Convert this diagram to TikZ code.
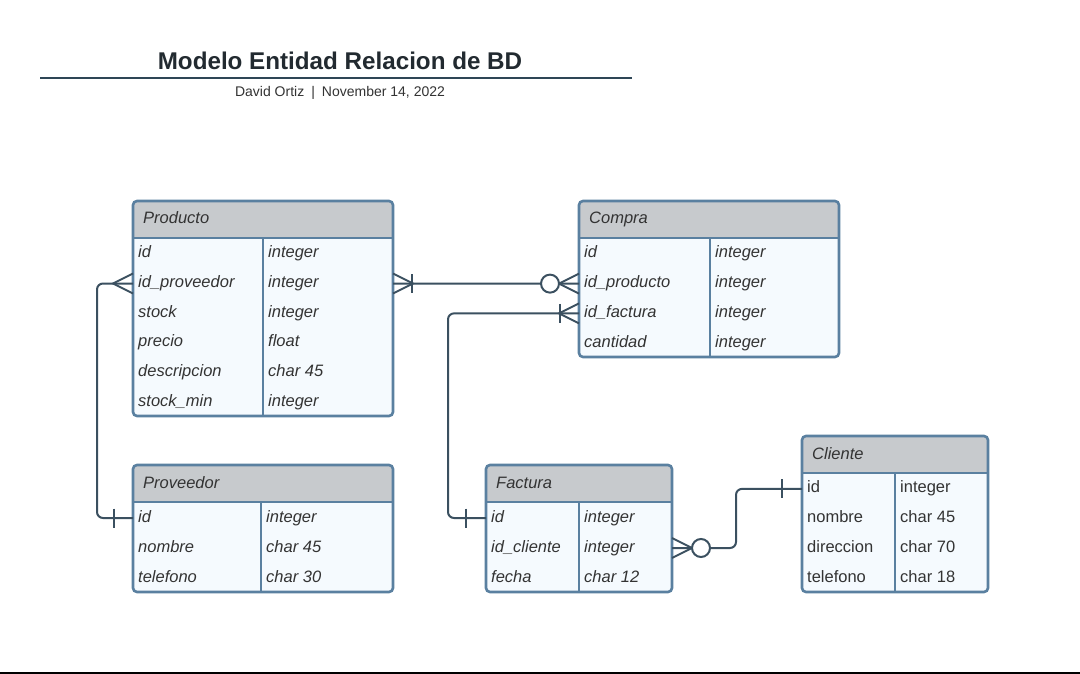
\documentclass[tikz,border=0pt]{standalone}
\usepackage{fontspec}
\setmainfont{Liberation Sans}
\usetikzlibrary{calc}
\definecolor{tblborder}{HTML}{5A80A0}
\definecolor{headfill}{HTML}{C7CACD}
\definecolor{bodyfill}{HTML}{F5FAFE}
\definecolor{txt}{HTML}{333333}
\definecolor{connclr}{HTML}{3B5060}
\definecolor{titleline}{HTML}{2E4656}
\definecolor{titletext}{HTML}{222A30}

\newcommand\rowfont{\itshape}
\newcommand\ertable[9]{%
  \pgfmathsetmacro\erhy{#3+37}%
  \pgfmathsetmacro\errh{(#6-\erhy)/#7}%
  \fill[bodyfill, rounded corners=4pt] (#2,#3) rectangle (#4,#6);
  \begin{scope}
    \clip (#2,#3) rectangle (#4,\erhy);
    \fill[headfill, rounded corners=4pt] (#2,#3) rectangle (#4,#6);
  \end{scope}
  \node[hdrtext] (#1-title) at (#2+10,#3+23) {#8};
  \foreach \a/\b [count=\i] in {#9} {
    \pgfmathsetmacro\erc{\erhy+(\i-0.5)*\errh}
    \node[celltext] (#1-\i-key) at (#2+5,\erc+5) {\rowfont\a};
    \node[celltext] (#1-\i-type) at (#5+5,\erc+5) {\rowfont\b};
    \coordinate (#1-\i-w) at (#2,\erc+1);
    \coordinate (#1-\i-e) at (#4,\erc+1);
  }
  \draw[tblline] (#2,\erhy) -- (#4,\erhy);
  \draw[tblline] (#5,\erhy) -- (#5,#6);
  \draw[tblline, rounded corners=4pt] (#2,#3) rectangle (#4,#6);
}
\newcommand\crowfoot[2]{%
  \draw[conn] ($(#1)+(0,-10)$) -- ($(#1)+(#2*20,0)$) -- ($(#1)+(0,10)$);}
\newcommand\erbar[3]{%
  \draw[conn] ($(#1)+(#2*#3,-9.5)$) -- ($(#1)+(#2*#3,9.5)$);}
\newcommand\ercircle[2]{%
  \draw[conn, fill=white] ($(#1)+(#2*29,0)$) circle[radius=9pt];}

\begin{document}
\begin{tikzpicture}[x=1pt, y=-1pt,
  tblline/.style={draw=tblborder, line width=2.6pt},
  hdrtext/.style={anchor=base west, inner sep=0pt, text=txt, font=\itshape\fontsize{16.5}{18}\selectfont},
  celltext/.style={anchor=base west, inner sep=0pt, text=txt, font=\fontsize{16.5}{18}\selectfont},
  conn/.style={draw=connclr, line width=2pt},
  titlestyle/.style={inner sep=0pt, text=titletext, font=\bfseries\fontsize{24.2}{28}\selectfont},
  substyle/.style={inner sep=0pt, text=txt, font=\fontsize{14}{16}\selectfont}]
\useasboundingbox (0,0) rectangle (1080,674);
\fill[white] (0,0) rectangle (1080,674);

% title block
\node[titlestyle] (title) at (340,61) {Modelo Entidad Relacion de BD};
\coordinate (tl-a) at (40,78);
\coordinate (tl-b) at (632,78);
\draw[titleline, line width=2pt] (tl-a) -- (tl-b);
\node[substyle] (subtitle) at (340,93) {David Ortiz\hspace{7pt}|\hspace{7pt}November 14, 2022};

% bottom rule
\coordinate (bl-a) at (0,673);
\coordinate (bl-b) at (1080,673);
\draw[black, line width=2.2pt] (bl-a) -- (bl-b);

% tables
\ertable{prod}{133}{201}{393}{263}{416}{6}{Producto}{id/integer, id\_proveedor/integer, stock/integer, precio/float, descripcion/char 45, stock\_min/integer}
\ertable{comp}{579}{201}{839}{710}{357}{4}{Compra}{id/integer, id\_producto/integer, id\_factura/integer, cantidad/integer}
\ertable{prov}{133}{465}{393}{261}{592}{3}{Proveedor}{id/integer, nombre/char 45, telefono/char 30}
\ertable{fact}{486}{465}{672}{579}{592}{3}{Factura}{id/integer, id\_cliente/integer, fecha/char 12}
\renewcommand\rowfont{\upshape}
\ertable{cli}{802}{436}{988}{895}{592}{4}{Cliente}{id/integer, nombre/char 45, direccion/char 70, telefono/char 18}

% connectors
\draw[conn, rounded corners=6pt] (prod-2-w) -- ++(-36,0) |- (prov-1-w);
\crowfoot{prod-2-w}{-1}
\erbar{prov-1-w}{-1}{19}

\draw[conn] (prod-2-e) -- (comp-2-w);
\crowfoot{prod-2-e}{1}
\erbar{prod-2-e}{1}{19}
\crowfoot{comp-2-w}{-1}
\ercircle{comp-2-w}{-1}

\draw[conn, rounded corners=6pt] (comp-3-w) -- ++(-131,0) |- (fact-1-w);
\crowfoot{comp-3-w}{-1}
\erbar{comp-3-w}{-1}{19}
\erbar{fact-1-w}{-1}{20}

\draw[conn, rounded corners=6pt] (fact-2-e) -- ++(64,0) |- (cli-1-w);
\crowfoot{fact-2-e}{1}
\ercircle{fact-2-e}{1}
\erbar{cli-1-w}{-1}{20}
\end{tikzpicture}
\end{document}
